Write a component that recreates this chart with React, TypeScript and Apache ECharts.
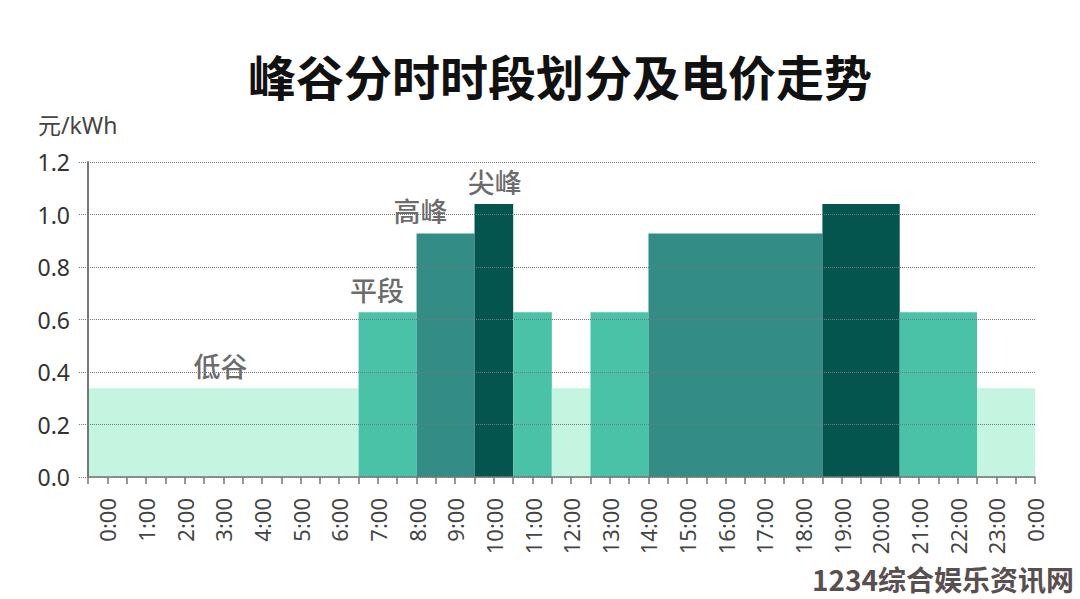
import React, { useEffect, useRef } from "react";
import * as echarts from "echarts";

// x axis in half-hour steps: 0..49, labels at odd steps
const hourLabels = [
  "0:00", "1:00", "2:00", "3:00", "4:00", "5:00", "6:00", "7:00", "8:00", "9:00",
  "10:00", "11:00", "12:00", "13:00", "14:00", "15:00", "16:00", "17:00", "18:00",
  "19:00", "20:00", "21:00", "22:00", "23:00", "0:00",
];
const segStart = [0, 14, 17, 20, 22, 24, 26, 29, 38, 42, 46];
const segEnd = [14, 17, 20, 22, 24, 26, 29, 38, 42, 46, 49];
const segType = [0, 1, 2, 3, 1, 0, 1, 2, 3, 1, 0];
const segValue = [0.338, 0.628, 0.928, 1.04, 0.628, 0.338, 0.628, 0.928, 1.04, 0.628, 0.338];
const typeNames = ["低谷", "平段", "高峰", "尖峰"];
const typeColors = ["#c4f5e0", "#4ac2a8", "#338c86", "#04554d"];
// annotation anchors (x in half-hour steps, y = price)
const annoX = [6.85, 14.95, 17.2, 21.05];
const annoY = [0.338, 0.628, 0.928, 1.04];

export default function App() {
  const ref = useRef<HTMLDivElement>(null);
  useEffect(() => {
    const chart = echarts.init(ref.current!, null, { renderer: "svg" });
    const font = "'Noto Sans', 'Noto Sans CJK SC', sans-serif";
    chart.setOption({
      animation: false,
      backgroundColor: "#ffffff",
      title: {
        text: "峰谷分时时段划分及电价走势",
        left: 243,
        top: 46,
        textStyle: {
          fontSize: 48,
          fontWeight: "bold",
          color: "#111111",
          fontFamily: "'Noto Sans CJK SC', sans-serif",
        },
      },
      graphic: [
        {
          type: "text",
          left: 38,
          top: 113,
          style: { text: "元/kWh", fontSize: 23, fill: "#444444", fontFamily: font },
        },
        {
          type: "text",
          right: 6,
          bottom: 6,
          z: 100,
          style: {
            text: "1234综合娱乐资讯网",
            fontSize: 28,
            fontWeight: "bold",
            fill: "#5a4f50",
            fontFamily: "'Noto Sans CJK SC', sans-serif",
          },
        },
      ],
      grid: { left: 88, right: 45, top: 162, bottom: 122 },
      xAxis: {
        type: "value",
        min: 0,
        max: 49,
        interval: 1,
        z: 10,
        axisLine: { show: true, lineStyle: { color: "#777777", width: 1.5 } },
        axisTick: { show: true, length: 7, lineStyle: { color: "#777777", width: 1.5 } },
        splitLine: { show: false },
        axisLabel: {
          rotate: 90,
          margin: 21,
          fontSize: 22,
          color: "#444444",
          fontFamily: font,
          showMinLabel: true,
          showMaxLabel: true,
          formatter: (v: number) =>
            v % 2 === 1 ? hourLabels[(v - 1) / 2] : "",
        },
      },
      yAxis: {
        type: "value",
        min: 0,
        max: 1.2,
        interval: 0.2,
        z: 10,
        axisLine: { show: true, lineStyle: { color: "#777777", width: 2 } },
        axisTick: {
          show: true,
          length: 10,
          lineStyle: { color: "#777777", type: "dotted", width: 1 },
        },
        splitLine: {
          show: true,
          lineStyle: { color: "#777777", type: "dotted", width: 1 },
        },
        axisLabel: {
          margin: 18,
          fontSize: 23,
          color: "#333333",
          fontFamily: font,
          formatter: (v: number) => v.toFixed(1),
        },
      },
      series: [
        {
          type: "custom",
          z: 2,
          data: segStart.map((s, i) => [s, segEnd[i], segValue[i], segType[i]]),
          renderItem: (params: any, api: any) => {
            const x0 = api.value(0);
            const x1 = api.value(1);
            const v = api.value(2);
            const t = api.value(3);
            const p0 = api.coord([x0, v]);
            const p1 = api.coord([x1, 0]);
            return {
              type: "rect",
              shape: { x: p0[0], y: p0[1], width: p1[0] - p0[0], height: p1[1] - p0[1] },
              style: { fill: typeColors[t] },
            };
          },
        },
        {
          type: "scatter",
          z: 5,
          symbolSize: 0,
          data: annoX.map((x, i) => ({ value: [x, annoY[i]], name: typeNames[i] })),
          label: {
            show: true,
            position: "top",
            distance: 9,
            formatter: (p: any) => p.name,
            fontSize: 27,
            fontWeight: 500,
            color: "#444444",
            fontFamily: "'Noto Sans CJK SC', sans-serif",
          },
        },
      ],
    });
    return () => chart.dispose();
  }, []);
  return (
    <div
      ref={ref}
      style={{ position: "fixed", left: 0, top: 0, width: 1080, height: 599 }}
    />
  );
}
